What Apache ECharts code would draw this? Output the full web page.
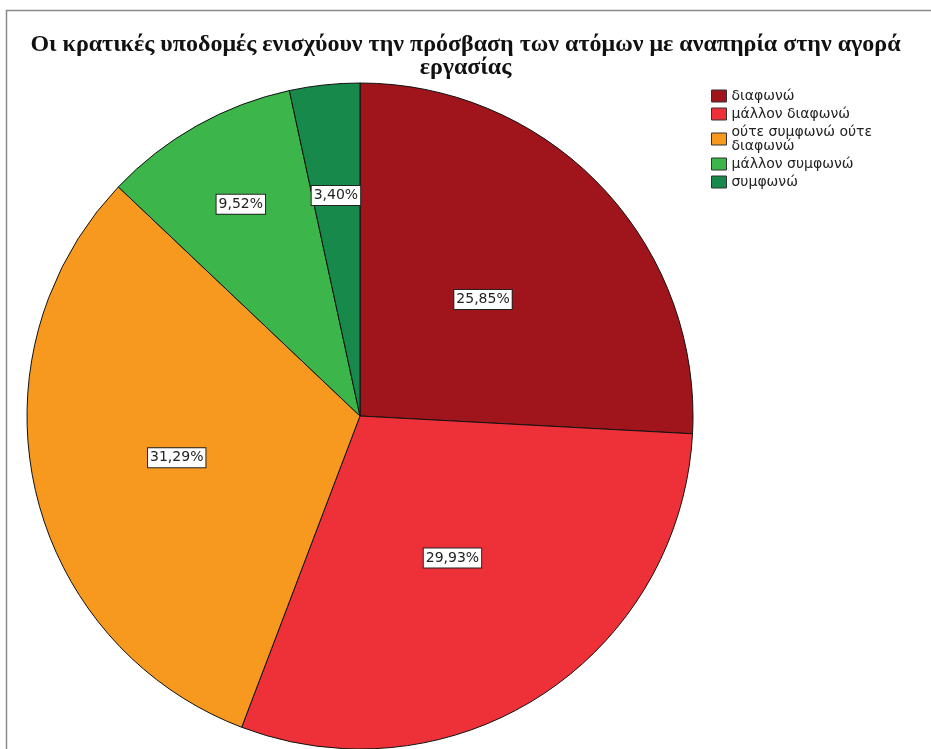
<!DOCTYPE html>
<html>
<head>
<meta charset="utf-8">
<title>Pie chart</title>
<script src="https://cdn.jsdelivr.net/npm/echarts@6/dist/echarts.min.js"></script>
<style>
  html, body { margin: 0; padding: 0; background: #fff; }
  #chart { width: 931px; height: 749px; }
</style>
</head>
<body>
<div id="chart"></div>
<script>
// answers (counts, n = 147) -> 25,85% / 29,93% / 31,29% / 9,52% / 3,40%
const categories = ["διαφωνώ", "μάλλον διαφωνώ", "ούτε συμφωνώ ούτε διαφωνώ", "μάλλον συμφωνώ", "συμφωνώ"];
const counts = [38, 44, 46, 14, 5];
const colors = ["#a0151b", "#ee3139", "#f6991e", "#3cb64a", "#17894a"];
// small label nudges so they sit like in the original
const labelOffsets = [[0, 0], [0, 0], [-18, 4], [-36, -64], [-6, -52]];

const total = counts.reduce((a, b) => a + b, 0);

let chart = echarts.init(document.getElementById("chart"));

let option = {
  animation: false,
  title: {
    text: "Οι κρατικές υποδομές ενισχύουν την πρόσβαση των ατόμων με αναπηρία στην αγορά\nεργασίας",
    left: "center",
    top: 28,
    textStyle: {
      fontFamily: "Liberation Serif",
      fontWeight: "bold",
      fontSize: 24,
      lineHeight: 23,
      color: "#111"
    }
  },
  legend: {
    orient: "vertical",
    left: 706,
    top: 84,
    itemWidth: 15,
    itemHeight: 12,
    itemGap: 4,
    icon: "rect",
    data: categories,
    itemStyle: { borderColor: "#333", borderWidth: 1 },
    formatter: function (name) {
      // long answer goes on two lines like the original
      return name.length > 20 ? name.replace(/ (\S+)$/, "\n$1") : name;
    },
    textStyle: {
      fontFamily: "DejaVu Sans",
      fontSize: 14,
      lineHeight: 14,
      color: "#222"
    }
  },
  graphic: [
    { type: "line", shape: { x1: 6, y1: 10.5, x2: 931, y2: 10.5 }, style: { stroke: "#8a8a8a", lineWidth: 1.5 } },
    { type: "line", shape: { x1: 6.5, y1: 10, x2: 6.5, y2: 749 }, style: { stroke: "#8a8a8a", lineWidth: 1.5 } }
  ],
  series: [
    {
      type: "pie",
      center: [360, 416],
      radius: 333,
      startAngle: 90,
      clockwise: true,
      label: {
        show: true,
        position: "inside",
        formatter: function (p) {
          return (p.value / total * 100).toFixed(2).replace(".", ",") + "%";
        },
        fontFamily: "DejaVu Sans",
        fontSize: 14,
        color: "#222",
        backgroundColor: "#fff",
        borderColor: "#222",
        borderWidth: 1,
        padding: [3, 2, 2, 2]
      },
      labelLine: { show: false },
      itemStyle: { borderColor: "#111", borderWidth: 1 },
      emphasis: { disabled: true },
      data: categories.map(function (name, i) {
        return {
          name: name,
          value: counts[i],
          itemStyle: { color: colors[i] },
          label: { offset: labelOffsets[i] }
        };
      })
    }
  ]
};

chart.setOption(option);
window.addEventListener("resize", function () {
  chart.resize();
});
</script>
</body>
</html>
